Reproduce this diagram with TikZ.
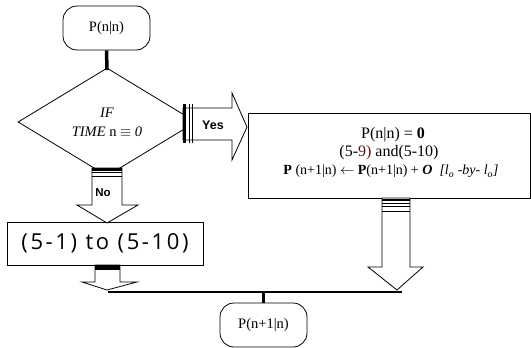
\documentclass[tikz,border=0pt]{standalone}
\usepackage{fontspec}
\setmainfont{Liberation Serif}
\newfontfamily\lblfont{Liberation Sans}
\newfontfamily\boxfont[LetterSpace=12]{Open Sans}
\usetikzlibrary{shapes.geometric}
\definecolor{darkred}{RGB}{95,20,25}
\begin{document}
\begin{tikzpicture}[x=1pt,y=-1pt,
  term/.style={draw, line width=0.8pt, rounded corners=14pt, minimum width=87pt, minimum height=44pt, inner sep=0pt, font=\fontsize{14.5}{16}\selectfont},
  decision/.style={draw, line width=0.8pt, diamond, minimum width=178pt, minimum height=108pt, inner sep=0pt, align=center, font=\fontsize{14.5}{19}\selectfont},
  procbox/.style={draw, line width=0.8pt, inner sep=0pt},
  blockarrow/.style={draw, line width=0.8pt, fill=white},
  conn/.style={line width=3.5pt},
  arrowlbl/.style={font=\lblfont\bfseries\fontsize{12.5}{14}\selectfont, inner sep=0pt}
]
\useasboundingbox (0,0) rectangle (531,348);

% nodes
\node[term] (start) at (106.5,28) {P(n|n)};
\node[decision] (dec) at (107,122) {\textit{IF}\\ \textit{TIME} n $\equiv$ \textit{0}};
\node[procbox, minimum width=196pt, minimum height=43pt] (proc) at (105,243.5) {\boxfont\fontsize{22}{24}\selectfont (5-1) to (5-10)};
\node[procbox, minimum width=282pt, minimum height=85pt] (init) at (389,155.5) {};
\node[term] (end) at (263.5,325) {P(n+1|n)};

% texts inside the right box
\node[inner sep=0pt, font=\fontsize{16}{18}\selectfont] (t1) at (393,134.5) {P(n|n) = \textbf{0}};
\node[inner sep=0pt, font=\fontsize{16}{18}\selectfont] (t2) at (389,152.5) {(5-\textcolor{darkred}{9)} and(5-10)};
\node[inner sep=0pt, font=\fontsize{14}{16}\selectfont] (t3) at (391,171.5) {\textbf{P} (n+1|n) $\leftarrow$ \textbf{P}(n+1|n) + \textbf{\textit{O}}\enspace\textit{[l\textsubscript{o} -by- l\textsubscript{o}]}};

% connectors
\coordinate (barL) at (108,292);
\coordinate (barR) at (402,292);
\draw[conn] (start.south) -- (107,70);
\draw[line width=2.2pt] (barL) -- (barR);
\draw[conn] (end.north |- barL) -- (end.north);

% Yes arrow
\draw[blockarrow] (183,108) -- (232,108) -- (232,93) -- (247,127) -- (232,160) -- (232,140) -- (183,140) -- cycle;
\draw[line width=3pt] (184.5,104) -- (184.5,143);
\draw[line width=0.8pt] (189,104) -- (189,143);
\draw[line width=0.8pt] (192.5,104) -- (192.5,143);
\node[arrowlbl] (yes) at (213,125) {Yes};

% No arrow
\draw[blockarrow] (92,168) -- (122,168) -- (122,205) -- (138,205) -- (107,223) -- (77,205) -- (92,205) -- cycle;
\fill (92,167.5) rectangle (122,170.5);
\draw[line width=1.2pt] (92,172.8) -- (122,172.8);
\draw[line width=0.8pt] (92,176) -- (122,176);
\node[arrowlbl, font=\lblfont\bfseries\fontsize{11.5}{13}\selectfont] (no) at (103,193) {No};

% arrow below (5-1) to (5-10)
\draw[blockarrow] (95,265) -- (120,265) -- (120,282) -- (137,282) -- (107,290) -- (82,282) -- (95,282) -- cycle;
\fill (95,265) rectangle (120,270);

% arrow below right box
\draw[blockarrow] (382,198) -- (410,198) -- (410,267) -- (423,267) -- (397,290) -- (368,267) -- (382,267) -- cycle;
\draw[line width=2pt] (382,199.5) -- (410,199.5);
\draw[line width=1pt] (382,203.5) -- (410,203.5);
\draw[line width=1pt] (382,206.5) -- (410,206.5);
\draw[line width=1pt] (382,211) -- (410,211);
\end{tikzpicture}
\end{document}
